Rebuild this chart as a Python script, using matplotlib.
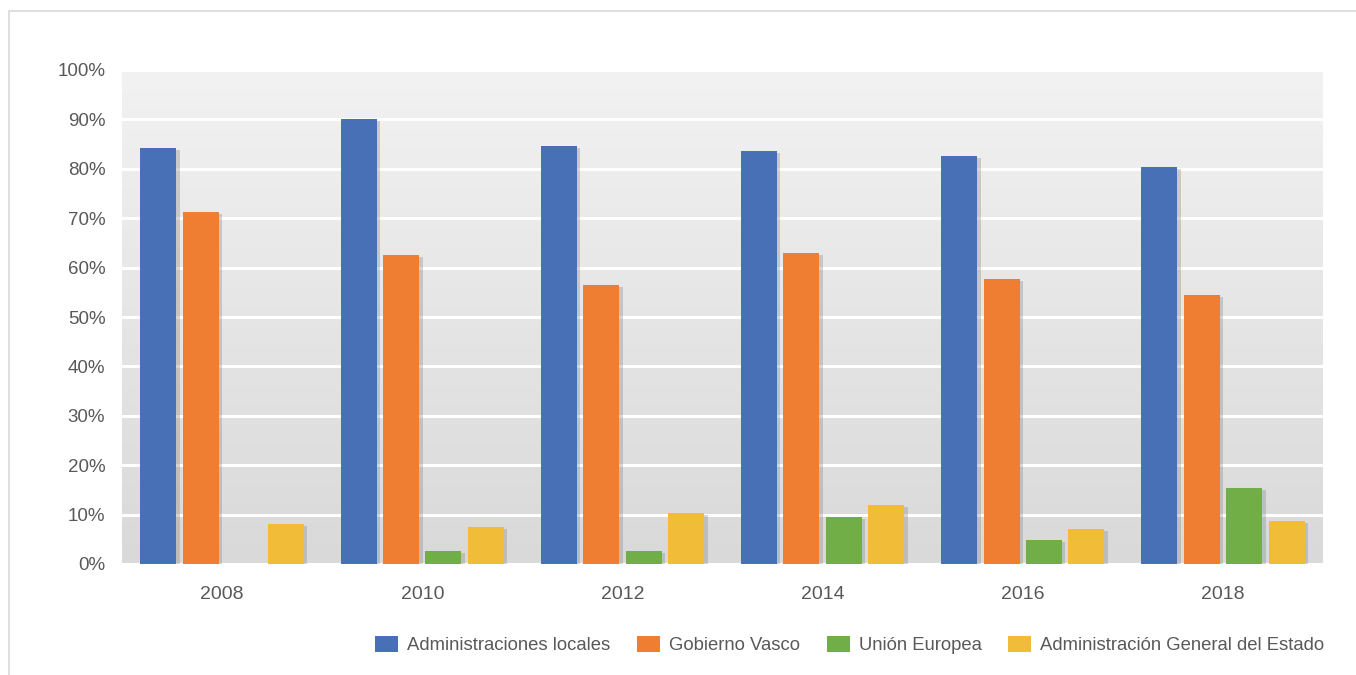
import matplotlib
matplotlib.use("Agg")
import matplotlib.pyplot as plt
import numpy as np
from matplotlib import patheffects as pe
from matplotlib.patches import Rectangle, Patch
from matplotlib.ticker import FuncFormatter
from matplotlib.colors import LinearSegmentedColormap

years = ["2008", "2010", "2012", "2014", "2016", "2018"]
series_names = ["Administraciones locales", "Gobierno Vasco", "Unión Europea",
                "Administración General del Estado"]
adm_locales = [84.2, 90.1, 84.6, 83.6, 82.6, 80.4]
gob_vasco = [71.3, 62.6, 56.5, 63.0, 57.7, 54.5]
union_europea = [0.0, 2.6, 2.6, 9.5, 4.9, 15.4]
adm_estado = [8.1, 7.5, 10.3, 11.9, 7.1, 8.7]
colors = ["#4870b7", "#ef7d32", "#72ae48", "#f1bd38"]

plt.rcParams['font.family'] = ['Liberation Sans', 'DejaVu Sans']

fig = plt.figure(figsize=(13.56, 6.75), dpi=100)
W, H = 1356, 675
ax = fig.add_axes([122 / W, 1 - 564 / H, 1201 / W, 494 / H])

# outer frame
fig.patches.append(Rectangle((9 / W, -0.01), (1356 - 9) / W + 0.01, 1 - 11 / H + 0.01,
                             transform=fig.transFigure, fill=False,
                             edgecolor="#d9d9d9", linewidth=1.2))

# gradient background
grad = np.linspace(0, 1, 256).reshape(-1, 1)
cmap = LinearSegmentedColormap.from_list("bg", ["#d9d9d9", "#f2f2f2"])
ax.imshow(grad, aspect="auto", cmap=cmap, origin="lower",
          extent=[-0.5, 5.5, 0, 100], zorder=0)

x = np.arange(len(years))
data = [adm_locales, gob_vasco, union_europea, adm_estado]
slot = 0.212
width = 0.18
for i, (vals, c) in enumerate(zip(data, colors)):
    pos = x + (i - 1.5) * slot
    bars = ax.bar(pos, vals, width=width, color=c, zorder=3)
    for b in bars:
        if b.get_height() > 0:
            b.set_path_effects([pe.SimplePatchShadow(offset=(2.5, -1.5), shadow_rgbFace="#888888",
                                                     alpha=0.35), pe.Normal()])

ax.set_xlim(-0.5, 5.5)
ax.set_ylim(0, 100)
ax.set_yticks(np.arange(0, 101, 10))
ax.yaxis.set_major_formatter(FuncFormatter(lambda v, p: f"{int(v)}%"))
ax.set_xticks(x)
ax.set_xticklabels(years)
ax.grid(axis="y", color="white", linewidth=2.2, zorder=1)
ax.set_axisbelow(True)
for s in ax.spines.values():
    s.set_visible(False)
ax.tick_params(axis="both", length=0, colors="#595959")
ax.tick_params(axis="y", pad=12, labelsize=13.5)
ax.tick_params(axis="x", pad=16, labelsize=14)

handles = [Patch(facecolor=c, label=n) for c, n in zip(colors, series_names)]
fig.legend(handles=handles, loc="center right", bbox_to_anchor=(1341 / W, 1 - 645 / H),
           ncol=4, frameon=False, fontsize=13.3, labelcolor="#595959",
           handlelength=1.25, handleheight=0.95, handletextpad=0.48, columnspacing=1.45)

fig.savefig("out.png", dpi=100)
